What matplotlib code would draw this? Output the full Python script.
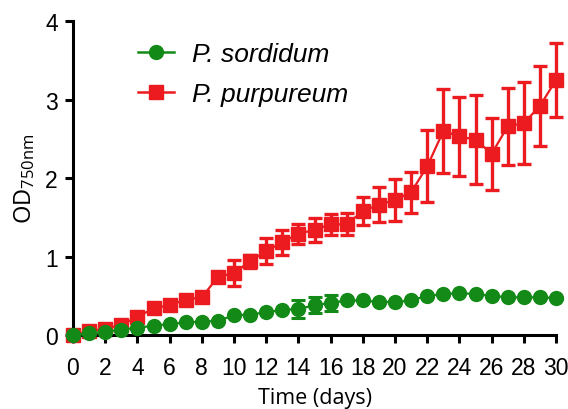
import matplotlib
matplotlib.use("Agg")
import matplotlib.pyplot as plt
from matplotlib.lines import Line2D

# jours de mesure
days = list(range(31))

# P. sordidum (vert)
sordidum = [0.00, 0.02, 0.04, 0.07, 0.09, 0.12, 0.14, 0.16, 0.17, 0.18,
            0.25, 0.26, 0.29, 0.32, 0.33, 0.38, 0.41, 0.44, 0.44, 0.42,
            0.42, 0.44, 0.50, 0.52, 0.535, 0.52, 0.50, 0.48, 0.48, 0.48,
            0.47]
sordidum_err = [0.01, 0.01, 0.01, 0.01, 0.01, 0.01, 0.01, 0.01, 0.01, 0.01,
                0.01, 0.01, 0.01, 0.01, 0.11, 0.10, 0.10, 0.01, 0.01, 0.01,
                0.01, 0.01, 0.01, 0.01, 0.01, 0.01, 0.01, 0.01, 0.01, 0.01,
                0.01]

# P. purpureum (rouge)
purpureum = [0.00, 0.05, 0.08, 0.13, 0.23, 0.34, 0.38, 0.45, 0.48, 0.74,
             0.79, 0.94, 1.07, 1.18, 1.29, 1.34, 1.41, 1.41, 1.58, 1.66,
             1.72, 1.82, 2.15, 2.60, 2.53, 2.49, 2.31, 2.66, 2.70, 2.92,
             3.25]
purpureum_err = [0.01, 0.02, 0.02, 0.02, 0.03, 0.03, 0.03, 0.03, 0.03, 0.05,
                 0.17, 0.08, 0.17, 0.16, 0.13, 0.15, 0.13, 0.14, 0.18, 0.22,
                 0.27, 0.26, 0.46, 0.54, 0.50, 0.57, 0.46, 0.49, 0.52, 0.51,
                 0.47]

green = "#138A17"
red = "#EC1B1F"

plt.rcParams['font.family'] = ['Liberation Sans', 'DejaVu Sans']

fig = plt.figure(figsize=(5.68, 4.10), dpi=100)
ax = fig.add_axes([0.1285, 0.1805, 0.979 - 0.1285, 0.946 - 0.1805])

ax.errorbar(days, sordidum, yerr=sordidum_err, color=green, marker="o",
            markersize=10, linewidth=1.6, elinewidth=2.2, capsize=4.7,
            capthick=2.2, clip_on=False, zorder=3)
ax.errorbar(days, purpureum, yerr=purpureum_err, color=red, marker="s",
            markersize=10.5, linewidth=1.6, elinewidth=2.4, capsize=4.7,
            capthick=2.4, clip_on=False, zorder=2)

ax.set_xlim(0, 30)
ax.set_ylim(0, 4)
ax.set_xticks(range(0, 31, 2))
ax.set_yticks([0, 1, 2, 3, 4])

for s in ["top", "right"]:
    ax.spines[s].set_visible(False)
for s in ["left", "bottom"]:
    ax.spines[s].set_linewidth(2.2)
ax.tick_params(direction="out", length=6, width=2.2, labelsize=16.5, pad=5)
ax.tick_params(axis="x", pad=9)

ax.set_xlabel("Time (days)", fontsize=15.5, family="Open Sans", labelpad=6)
ax.set_ylabel(r"OD$\mathregular{_{750nm}}$", fontsize=17, family="Open Sans",
              labelpad=6)

# legende sans barres d'erreur
handles = [Line2D([], [], color=green, marker="o", markersize=10, linewidth=1.8),
           Line2D([], [], color=red, marker="s", markersize=10.5, linewidth=1.8)]
leg = ax.legend(handles, ["P. sordidum", "P. purpureum"], loc="upper left",
                bbox_to_anchor=(0.108, 0.975), frameon=False, borderpad=0,
                fontsize=19, handlelength=1.35, labelspacing=0.6,
                handletextpad=0.7)
for t in leg.get_texts():
    t.set_fontstyle("italic")

fig.savefig("out.png", dpi=100)
